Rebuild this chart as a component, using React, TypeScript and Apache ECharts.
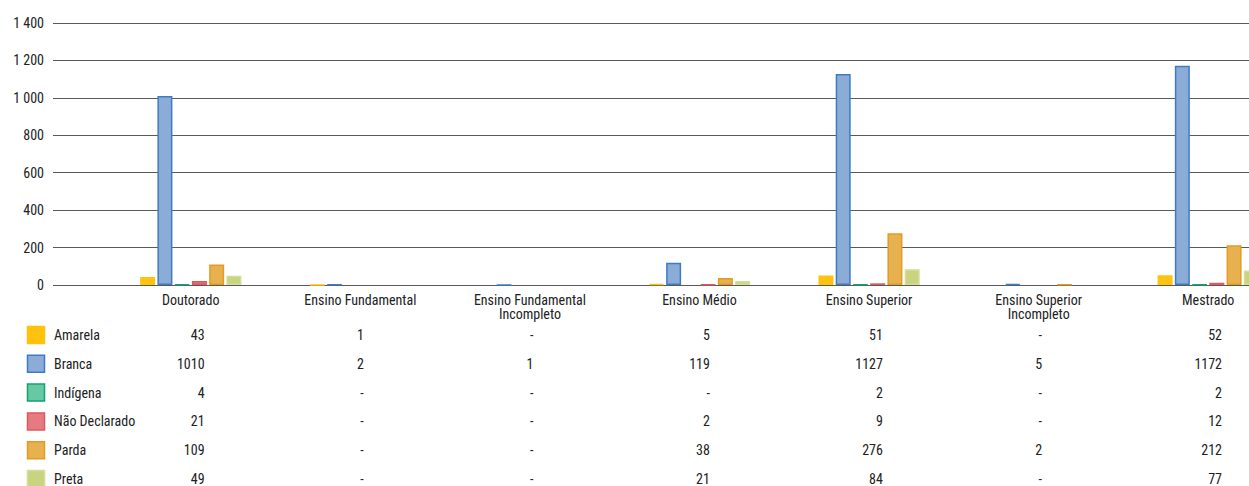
import React, { useEffect, useRef } from 'react';
import * as echarts from 'echarts';

// ---------- data ----------
const categories = [
  'Doutorado',
  'Ensino Fundamental',
  'Ensino Fundamental Incompleto',
  'Ensino Médio',
  'Ensino Superior',
  'Ensino Superior Incompleto',
  'Mestrado',
];
const seriesNames = ['Amarela', 'Branca', 'Indígena', 'Não Declarado', 'Parda', 'Preta'];
const amarela = [43, 1, null, 5, 51, null, 52];
const branca = [1010, 2, 1, 119, 1127, 5, 1172];
const indigena = [4, null, null, null, 2, null, 2];
const naoDeclarado = [21, null, null, 2, 9, null, 12];
const parda = [109, null, null, 38, 276, 2, 212];
const preta = [49, null, null, 21, 84, null, 77];
const yTicks = [0, 200, 400, 600, 800, 1000, 1200, 1400];

// ---------- styles ----------
const FONT = "'Roboto Condensed', 'Liberation Sans Narrow', 'Arial Narrow', 'DejaVu Sans Condensed', Roboto, sans-serif";
const FONT_SIZE = 14;
const TEXT_COLOR = '#222';
const fills = ['#FFC20E', '#8AACD6', '#66C9A3', '#E57B80', '#E7B14F', '#C9D47F'];
const borders = ['#FFC20E', '#3F7BC4', '#10A36C', '#E0575F', '#E59A22', '#D4DC98'];

function fmt(v: number): string {
  if (v >= 1000) return Math.floor(v / 1000) + ' ' + String(v % 1000).padStart(3, '0');
  return String(v);
}

export default function App() {
  const ref = useRef<HTMLDivElement>(null);
  useEffect(() => {
    const chart = echarts.init(ref.current!, null, { renderer: 'svg' });
    const allSeries = [amarela, branca, indigena, naoDeclarado, parda, preta];
    const yMin = yTicks[0];
    const yMax = yTicks[yTicks.length - 1];
    const interval = yTicks[1] - yTicks[0];
    chart.setOption({
      animation: false,
      grid: [
        { left: 53, top: 23, height: 262, right: 0 },
        { left: 106, top: 23, height: 262, width: 1187 },
      ],
      xAxis: [
        { gridIndex: 0, type: 'value', show: false, min: 0, max: 1 },
        {
          gridIndex: 1,
          type: 'category',
          data: categories,
          axisLine: { show: false },
          axisTick: { show: false },
          axisLabel: {
            interval: 0,
            margin: 8,
            fontFamily: FONT,
            fontSize: FONT_SIZE,
            lineHeight: 14,
            color: TEXT_COLOR,
            formatter: (s: string) => s.replace(' Incompleto', '\nIncompleto'),
          },
        },
      ],
      yAxis: [
        {
          gridIndex: 0,
          type: 'value',
          min: yMin,
          max: yMax,
          interval,
          axisLine: { show: false },
          axisTick: { show: false },
          axisLabel: { formatter: fmt, fontFamily: FONT, fontSize: FONT_SIZE, color: TEXT_COLOR, margin: 9 },
          splitLine: { lineStyle: { color: '#5a5a5a', width: 1 } },
        },
        { gridIndex: 1, type: 'value', min: yMin, max: yMax, interval, show: false, splitLine: { show: false } },
      ],
      series: allSeries.map((data, i) => ({
        type: 'bar',
        name: seriesNames[i],
        xAxisIndex: 1,
        yAxisIndex: 1,
        data,
        barWidth: 15,
        barGap: '15%',
        itemStyle: { color: fills[i], borderColor: borders[i], borderWidth: 1.5 },
      })),
    });

    // data table below the chart
    const canvas = document.createElement('canvas');
    const ctx = canvas.getContext('2d')!;
    ctx.font = `${FONT_SIZE}px ${FONT}`;
    const label = (v: number | null) => (v == null ? '-' : String(v));
    const rowY0 = 335;
    const rowStep = 28.8;
    const elements: any[] = [];
    allSeries.forEach((_, i) => {
      const y = rowY0 + i * rowStep;
      elements.push({
        type: 'rect',
        shape: { x: 27.5, y: y - 8.5, width: 17, height: 17 },
        style: { fill: fills[i], stroke: borders[i], lineWidth: 1.5 },
      });
      elements.push({
        type: 'text',
        style: {
          x: 54, y, text: seriesNames[i], fill: TEXT_COLOR,
          font: `${FONT_SIZE}px ${FONT}`,
          textAlign: 'left', align: 'left', textVerticalAlign: 'middle', verticalAlign: 'middle',
        },
      });
    });
    categories.forEach((cat, c) => {
      const cx = chart.convertToPixel({ xAxisIndex: 1 }, cat) as number;
      const strs = allSeries.map((s) => label(s[c]));
      const maxW = Math.max(...strs.map((s) => ctx.measureText(s).width));
      strs.forEach((s, i) => {
        elements.push({
          type: 'text',
          style: {
            x: cx + maxW / 2, y: rowY0 + i * rowStep, text: s, fill: TEXT_COLOR,
            font: `${FONT_SIZE}px ${FONT}`,
            textAlign: 'right', align: 'right', textVerticalAlign: 'middle', verticalAlign: 'middle',
          },
        });
      });
    });
    chart.setOption({ graphic: { elements } });
    return () => chart.dispose();
  }, []);
  return (
    <div style={{ position: 'absolute', left: 0, top: 0, width: 1249, height: 486, overflow: 'hidden', background: '#fff' }}>
      <div ref={ref} style={{ width: 1300, height: 486 }} />
    </div>
  );
}
